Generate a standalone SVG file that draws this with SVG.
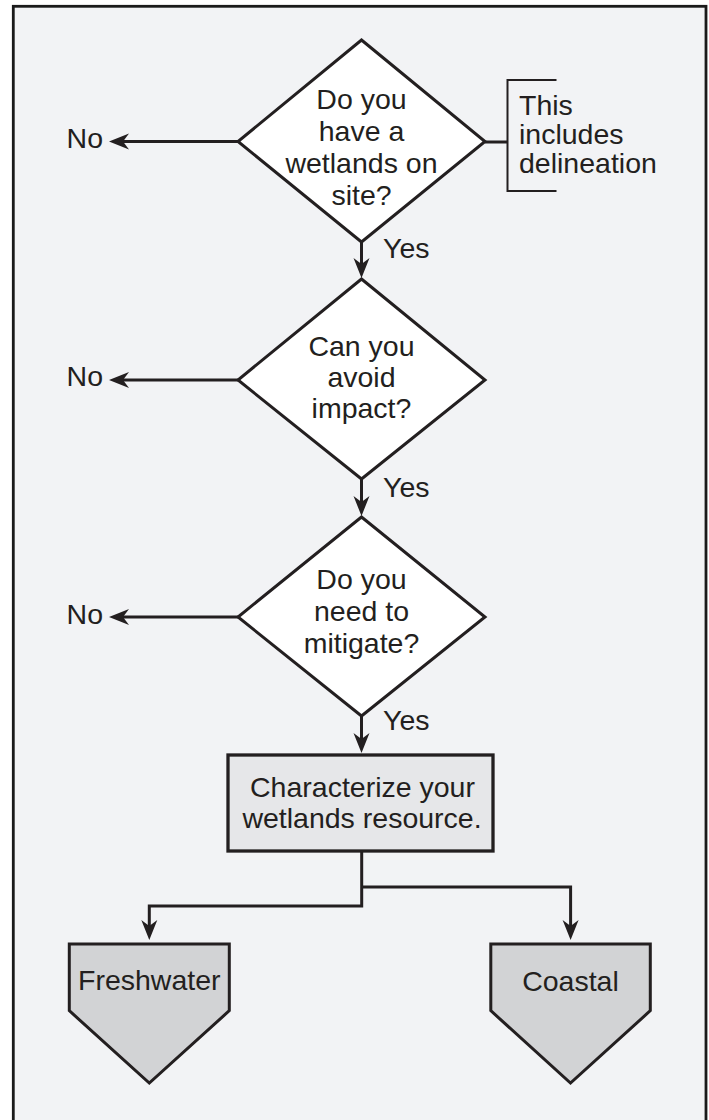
<svg xmlns="http://www.w3.org/2000/svg" width="709" height="1120" viewBox="0 0 709 1120">
<style>
text{font-family:"Liberation Sans",Arial,sans-serif;font-size:28.5px;fill:#231f20}
.c{text-anchor:middle}
.e{text-anchor:end}
.dia{fill:#ffffff;stroke:#231f20;stroke-width:3;stroke-linejoin:miter}
.box{fill:#e6e7e9;stroke:#231f20;stroke-width:3.3}
.pent{fill:#d2d3d5;stroke:#231f20;stroke-width:3}
.ln{fill:none;stroke:#231f20;stroke-width:3}
.thin{fill:none;stroke:#231f20;stroke-width:2}
</style>
<defs>
<marker id="ah" markerUnits="userSpaceOnUse" markerWidth="24" markerHeight="20" viewBox="-10 -10 24 20" refX="0" refY="0" orient="auto">
<path d="M12,0 L-8,-8 L-2,0 L-8,8 Z" fill="#231f20"/>
</marker>
</defs>
<rect x="0" y="0" width="709" height="1120" fill="#ffffff"/>
<rect id="frame" x="13.3" y="6.3" width="692.7" height="1200" fill="#f2f3f5" stroke="#1a1a1a" stroke-width="2.8"/>

<g id="connectors">
<path class="ln" d="M238,141.5 H121" marker-end="url(#ah)"/>
<path class="ln" d="M238,380 H121" marker-end="url(#ah)"/>
<path class="ln" d="M238,617 H121" marker-end="url(#ah)"/>
<path class="ln" d="M361.5,242 V266" marker-end="url(#ah)"/>
<path class="ln" d="M361.5,479 V504" marker-end="url(#ah)"/>
<path class="ln" d="M361.5,716 V741" marker-end="url(#ah)"/>
<path class="ln" d="M361.7,851 V906 H149.3 V928" marker-end="url(#ah)"/>
<path class="ln" d="M361.7,887 H570.6 V928" marker-end="url(#ah)"/>
<path class="ln" d="M485,142 H507.5"/>
<path class="thin" d="M556.5,80 H507.5 V191 H556.5"/>
</g>

<g id="labels">
<text class="e" x="103" y="147.5">No</text>
<text class="e" x="103" y="386">No</text>
<text class="e" x="103" y="624">No</text>
<text x="383" y="258">Yes</text>
<text x="383" y="497">Yes</text>
<text x="383" y="730">Yes</text>
</g>

<g id="q1">
<polygon class="dia" points="361.5,40 485,141.5 361.5,242 238,141.5"/>
<text class="c" x="361.5" y="109">Do you</text>
<text class="c" x="361.5" y="141">have a</text>
<text class="c" x="361.5" y="173">wetlands on</text>
<text class="c" x="361.5" y="204.5">site?</text>
</g>

<g id="note">
<text x="519" y="115">This</text>
<text x="519" y="144">includes</text>
<text x="519" y="173">delineation</text>
</g>

<g id="q2">
<polygon class="dia" points="361.5,279 485,380 361.5,479 238,380"/>
<text class="c" x="361.5" y="356">Can you</text>
<text class="c" x="361.5" y="387">avoid</text>
<text class="c" x="361.5" y="418">impact?</text>
</g>

<g id="q3">
<polygon class="dia" points="361.5,517 485,617 361.5,716 238,617"/>
<text class="c" x="361.5" y="588.5">Do you</text>
<text class="c" x="361.5" y="620.5">need to</text>
<text class="c" x="361.5" y="652.5">mitigate?</text>
</g>

<g id="characterize">
<rect class="box" x="228" y="755" width="265" height="96"/>
<text class="c" x="362.5" y="797">Characterize your</text>
<text class="c" x="362" y="828">wetlands resource.</text>
</g>

<g id="freshwater">
<polygon class="pent" points="69.3,944 229.3,944 229.3,1010.7 149.3,1083 69.3,1010.7"/>
<text class="c" x="149.3" y="990">Freshwater</text>
</g>

<g id="coastal">
<polygon class="pent" points="490.8,944 650.3,944 650.3,1010.7 570.5,1083 490.8,1010.7"/>
<text class="c" x="570.5" y="990.5">Coastal</text>
</g>
</svg>
